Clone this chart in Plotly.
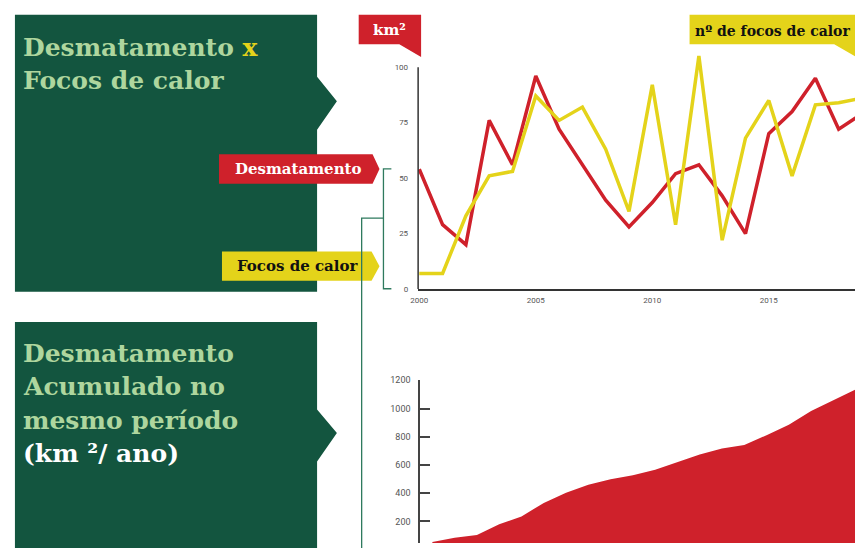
import plotly.graph_objects as go

W, H = 855, 548

# ---- data ----
years = list(range(2000, 2020))
desmatamento = [54, 29, 20, 76, 56, 96, 72, 56, 40, 28, 39, 52, 56, 42, 25, 70, 80, 95, 72, 79]
focos_calor = [7, 7, 33, 51, 53, 87, 76, 82, 63, 35, 92, 29, 105, 22, 68, 85, 51, 83, 84, 86]
acumulado = [54, 83, 103, 179, 235, 331, 403, 459, 499, 527, 566, 618, 674, 716, 741, 811, 885, 983, 1060, 1135]
top_yticks = [0, 25, 50, 75, 100]
top_xticks = [2000, 2005, 2010, 2015]
bot_yticks = [0, 200, 400, 600, 800, 1000, 1200]

GREEN = "#13553F"
LIGHT = "#AED69E"
RED = "#CF212B"
YELLOW = "#E4D31A"
LINEG = "#2E7A5E"
SERIF = "DejaVu Serif"


def X(px):
    return px / W


def Y(py):
    return 1 - py / H


def path(pts, close=True):
    s = "M " + " L ".join(f"{X(a):.5f},{Y(b):.5f}" for a, b in pts)
    return s + (" Z" if close else "")


fig = go.Figure()

fig.add_trace(go.Scatter(x=years, y=desmatamento, mode="lines",
                         line=dict(color=RED, width=3.5), xaxis="x", yaxis="y",
                         showlegend=False, hoverinfo="skip"))
fig.add_trace(go.Scatter(x=years, y=focos_calor, mode="lines",
                         line=dict(color=YELLOW, width=3.5), xaxis="x", yaxis="y",
                         showlegend=False, hoverinfo="skip"))
fig.add_trace(go.Scatter(x=years, y=acumulado, mode="lines", fill="tozeroy",
                         fillcolor=RED, line=dict(color=RED, width=0),
                         xaxis="x2", yaxis="y2", showlegend=False, hoverinfo="skip"))

shapes = []
# left panels
shapes.append(dict(type="path", xref="paper", yref="paper", layer="below",
                   path=path([(7, 10), (312, 10), (312, 73), (332, 98), (312, 127), (312, 292), (7, 292)]),
                   fillcolor=GREEN, line=dict(width=0)))
shapes.append(dict(type="path", xref="paper", yref="paper", layer="below",
                   path=path([(7, 323), (312, 323), (312, 412), (332, 436), (312, 465), (312, 560), (7, 560)]),
                   fillcolor=GREEN, line=dict(width=0)))
# tags
shapes.append(dict(type="path", xref="paper", yref="paper",
                   path=path([(213, 152), (368, 152), (375, 167), (368, 182), (213, 182)]),
                   fillcolor=RED, line=dict(width=0)))
shapes.append(dict(type="path", xref="paper", yref="paper",
                   path=path([(216, 251), (367, 251), (375, 266), (367, 281), (216, 281)]),
                   fillcolor=YELLOW, line=dict(width=0)))
shapes.append(dict(type="path", xref="paper", yref="paper",
                   path=path([(354, 10), (417, 10), (417, 53), (395, 40), (354, 40)]),
                   fillcolor=RED, line=dict(width=0)))
shapes.append(dict(type="path", xref="paper", yref="paper",
                   path=path([(688, 10), (860, 10), (860, 55), (834, 40), (688, 40)]),
                   fillcolor=YELLOW, line=dict(width=0)))
# bracket lines
shapes.append(dict(type="path", xref="paper", yref="paper",
                   path=path([(387, 167), (379, 167), (379, 289), (387, 289)], close=False),
                   line=dict(color=LINEG, width=1.3)))
shapes.append(dict(type="path", xref="paper", yref="paper",
                   path=path([(379, 217), (357, 217), (357, 560)], close=False),
                   line=dict(color=LINEG, width=1.3)))
# top y axis line (0..100)
shapes.append(dict(type="line", xref="x domain", yref="y", x0=0, x1=0, y0=0, y1=100,
                   line=dict(color="#333333", width=1.5)))

ann = []


def text(px, py, s, size, color, anchor="left"):
    ann.append(dict(x=X(px), y=Y(py), xref="paper", yref="paper", text=s, showarrow=False,
                    xanchor=anchor, yanchor="middle", align="left",
                    font=dict(family=SERIF, size=size, color=color)))


text(13, 43, f"<b>Desmatamento <span style='color:{YELLOW}'>x</span></b>", 25, LIGHT)
text(13, 77, "<b>Focos de calor</b>", 25, LIGHT)
text(13, 355, "<b>Desmatamento</b>", 25, LIGHT)
text(13, 389, "<b>Acumulado no</b>", 25, LIGHT)
text(13, 423, "<b>mesmo período</b>", 25, LIGHT)
text(13, 457, "<b>(km ²/ ano)</b>", 25, "#FFFFFF")
text(293, 167, "<b>Desmatamento</b>", 15, "#FFFFFF", anchor="center")
text(292, 266, "<b>Focos de calor</b>", 15, "#111111", anchor="center")
text(385, 25, "<b>km²</b>", 15, "#FFFFFF", anchor="center")
text(691, 26, "<b>nº de focos de calor</b>", 14, "#111111")

tickfont = dict(family="Roboto", size=8, color="#555555")

fig.update_layout(
    width=W, height=H,
    margin=dict(l=0, r=0, t=0, b=0),
    paper_bgcolor="white", plot_bgcolor="rgba(0,0,0,0)",
    shapes=shapes, annotations=ann,
    xaxis=dict(domain=[X(414), 1], range=[1999.95, 2018.7], showgrid=False, zeroline=False,
               showline=True, linecolor="#333333", linewidth=1.5, tickvals=top_xticks,
               ticks="", tickfont=tickfont, ticklabelstandoff=3, anchor="y", fixedrange=True),
    yaxis=dict(domain=[Y(289.3), Y(289.3 - 110 * 2.26)], range=[0, 110], showgrid=False,
               zeroline=False, showline=False, tickvals=top_yticks, ticks="",
               tickfont=tickfont, ticklabelstandoff=9, anchor="x", fixedrange=True),
    xaxis2=dict(domain=[X(416), 1], range=[1999.45, 2018.97], visible=False, anchor="y2",
                fixedrange=True),
    yaxis2=dict(domain=[0, Y(382.3)], range=[46.6, 1200], showgrid=False, zeroline=False,
                showline=True, linecolor="#444444", linewidth=1.5, tickvals=bot_yticks,
                ticks="inside", ticklen=10, tickwidth=1.5, tickcolor="#444444",
                tickfont=dict(family="Roboto", size=9, color="#555555"),
                ticklabelstandoff=6, anchor="x2", fixedrange=True),
)

fig.write_html("out.html", config={"displayModeBar": False},
               post_script="document.body.style.margin='0';document.documentElement.style.overflow='hidden';")
